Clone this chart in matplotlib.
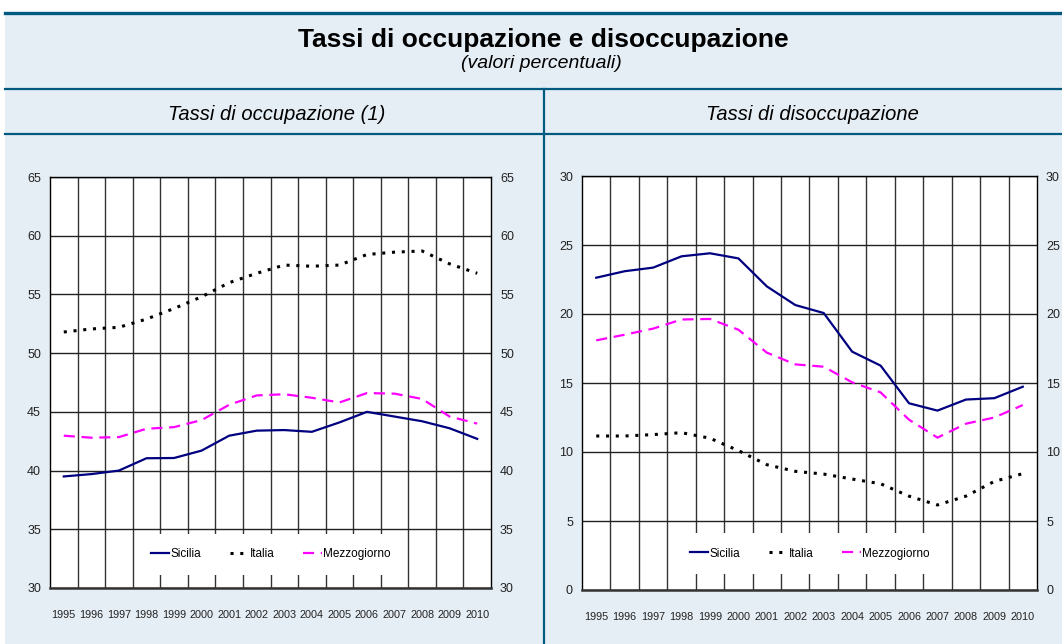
import numpy as np
import matplotlib.pyplot as plt
from matplotlib.lines import Line2D
from matplotlib.patches import Rectangle

# dati (valori percentuali)
anni = [str(a) for a in range(1995, 2011)]

occ_sicilia = [39.5, 39.7, 40.0, 41.05, 41.07, 41.7, 42.97, 43.4, 43.45, 43.3, 44.1, 45.0, 44.6, 44.2, 43.6, 42.7]
occ_italia = [51.8, 52.06, 52.2, 52.9, 53.8, 54.8, 56.0, 56.8, 57.5, 57.4, 57.5, 58.4, 58.6, 58.7, 57.6, 56.8]
occ_mezzogiorno = [42.97, 42.8, 42.85, 43.56, 43.7, 44.3, 45.6, 46.4, 46.5, 46.2, 45.8, 46.6, 46.55, 46.1, 44.6, 44.0]

dis_sicilia = [22.63, 23.1, 23.36, 24.18, 24.4, 24.03, 22.0, 20.65, 20.07, 17.27, 16.26, 13.53, 13.0, 13.8, 13.9, 14.73]
dis_italia = [11.16, 11.16, 11.26, 11.4, 11.0, 10.1, 9.08, 8.6, 8.4, 8.04, 7.7, 6.8, 6.16, 6.8, 7.87, 8.43]
dis_mezzogiorno = [18.09, 18.5, 18.94, 19.6, 19.64, 18.86, 17.2, 16.35, 16.18, 15.05, 14.32, 12.34, 11.04, 12.05, 12.5, 13.4]

W, H = 1062, 644
BG = '#E6EEF5'
BLU = '#005A80'

plt.rcParams['font.family'] = ['Liberation Sans', 'DejaVu Sans']

fig = plt.figure(figsize=(W / 100, H / 100), dpi=100)
fig.patch.set_facecolor('white')


def fx(px):
    return px / W


def fy(py):
    return 1 - py / H


# sfondo e cornici
fig.patches.append(Rectangle((fx(5), 0), 1 - fx(5), fy(14), transform=fig.transFigure,
                             facecolor=BG, edgecolor='none', zorder=-10))
for yy, lw in [(13, 2.4), (89, 1.6), (134, 1.6)]:
    fig.lines.append(Line2D([fx(5), 1], [fy(yy), fy(yy)], transform=fig.transFigure,
                            color=BLU, lw=lw, zorder=-5))
fig.lines.append(Line2D([fx(544), fx(544)], [fy(89), 0], transform=fig.transFigure, color=BLU, lw=1.6, zorder=-5))

fig.text(fx(543), fy(40), 'Tassi di occupazione e disoccupazione', fontsize=19, fontweight='bold',
         ha='center', va='center')
fig.text(fx(541), fy(64), '(valori percentuali)', fontsize=14, fontstyle='italic', ha='center', va='center')
fig.text(fx(277), fy(114), 'Tassi di occupazione (1)', fontsize=14.5, fontstyle='italic', ha='center', va='center')
fig.text(fx(812), fy(114), 'Tassi di disoccupazione', fontsize=14.5, fontstyle='italic', ha='center', va='center')


def pannello(rect, sic, ita, mez, ylim, leg_y):
    ax = fig.add_axes(rect)
    ax.set_facecolor('white')
    x = np.arange(len(anni))
    ax.plot(x, sic, color='#000080', lw=1.6, label='Sicilia', zorder=3)
    ax.plot(x, ita, color='black', lw=2.2, linestyle=(0, (1, 2.2)), label='Italia', zorder=3)
    ax.plot(x, mez, color='#FF00FF', lw=1.6, linestyle=(0, (5, 3)), label='Mezzogiorno', zorder=3)

    ax.set_xlim(-0.5, len(anni) - 0.5)
    ax.set_ylim(*ylim)
    ax.set_yticks(np.arange(ylim[0], ylim[1] + 1, 5))
    ax.set_xticks(x)
    ax.set_xticklabels(anni)
    ax.set_xticks(np.arange(0.5, len(anni) - 1, 1), minor=True)

    ax.set_axisbelow(True)
    ax.grid(which='minor', axis='x', color='#333333', lw=1.0)
    ax.grid(which='major', axis='y', color='#222222', lw=1.0)

    ax.tick_params(axis='y', which='both', left=False, right=False, labelleft=True, labelright=True,
                   pad=3, labelsize=9, labelcolor='#222222')
    ax.tick_params(axis='x', which='both', bottom=False, top=False, pad=12, labelsize=7.8,
                   labelcolor='#222222')
    for s in ax.spines.values():
        s.set_color('black')
        s.set_linewidth(1.0)
    ax.spines['bottom'].set_color('#333333')
    ax.spines['bottom'].set_linewidth(1.8)

    leg = ax.legend(loc='center', bbox_to_anchor=(0.5, leg_y), ncol=3, frameon=True, fancybox=False,
                    edgecolor='none', facecolor='white', framealpha=1, handlelength=1.6,
                    handletextpad=0.1, columnspacing=2.4, borderpad=1.25,
                    prop={'size': 8.5})
    leg.set_zorder(5)
    return ax


pannello([fx(50), fy(588), fx(441), 411 / H], occ_sicilia, occ_italia, occ_mezzogiorno, (30, 65), 0.082)
pannello([fx(582), fy(590), fx(455), 414 / H], dis_sicilia, dis_italia, dis_mezzogiorno, (0, 30), 0.088)

fig.savefig('out.png', dpi=100, facecolor=fig.get_facecolor())
